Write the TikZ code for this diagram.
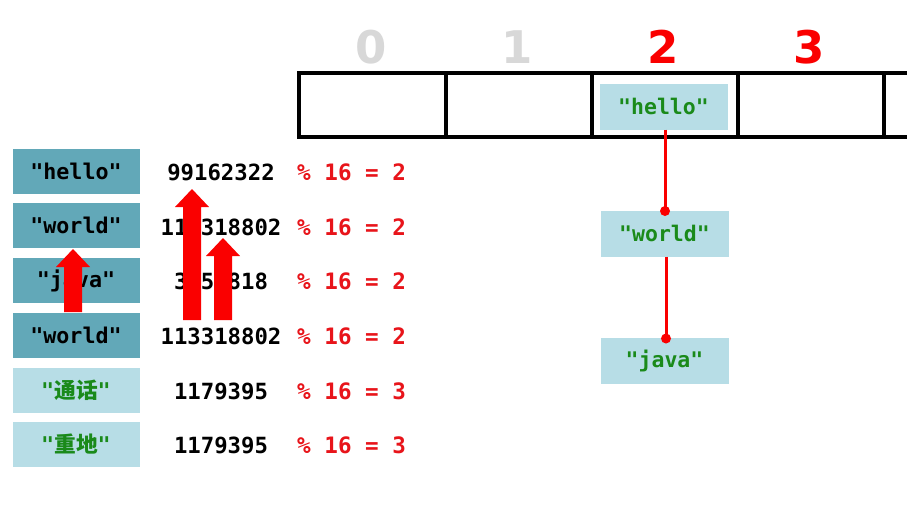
\documentclass[tikz,border=0pt]{standalone}
\usepackage{fontspec}
\setmonofont{DejaVu Sans Mono}
\newfontfamily\digitfont{DejaVu Sans}
\newfontfamily\cjk{Noto Sans CJK SC}
\definecolor{darkbox}{HTML}{62A8B8}
\definecolor{lightbox}{HTML}{B7DDE6}
\definecolor{txtgreen}{HTML}{1A8A1A}
\definecolor{hred}{HTML}{E8141A}
\definecolor{arrred}{HTML}{FA0000}
\definecolor{idxgray}{HTML}{D8D8D8}
\tikzset{
  keybox/.style={fill=darkbox, draw=white, line width=1pt, minimum width=128pt, minimum height=46pt, inner sep=0pt, font=\ttfamily\bfseries\fontsize{21.7}{21.7}\selectfont, text=black},
  keylight/.style={keybox, fill=lightbox, text=txtgreen},
  entrybox/.style={fill=lightbox, minimum width=128pt, minimum height=46pt, inner sep=0pt, font=\ttfamily\bfseries\fontsize{21.5}{21.5}\selectfont, text=txtgreen},
  hashtxt/.style={font=\ttfamily\bfseries\fontsize{22.3}{22.3}\selectfont, text=black, inner sep=0pt},
  modtxt/.style={font=\ttfamily\bfseries\fontsize{22.6}{22.6}\selectfont, text=hred, inner sep=0pt, anchor=west},
  idxlabel/.style={font=\digitfont\bfseries\fontsize{45}{45}\selectfont, inner sep=0pt},
  tableline/.style={line width=3.2pt, black},
  chain/.style={arrred, line width=3pt},
  bigarrow/.style={fill=arrred}
}
\begin{document}
\begin{tikzpicture}[x=1pt,y=-1pt]
\useasboundingbox[fill=white] (0,0) rectangle (907,507);

% hash table
\draw[tableline] (908,73) -- (299,73) -- (299,137) -- (908,137);
\foreach \x in {446,592,738,884} \draw[tableline] (\x,73) -- (\x,137);
\node[idxlabel, text=idxgray] (i0) at (371,47) {0};
\node[idxlabel, text=idxgray] (i1) at (517,47) {1};
\node[idxlabel, text=arrred] (i2) at (663,47) {2};
\node[idxlabel, text=arrred] (i3) at (809,47) {3};

% chain entries
\node[entrybox] (eh) at (663.5,106.5) {"hello"};
\node[entrybox] (ew) at (664.5,233.5) {"world"};
\node[entrybox] (ej) at (664.5,361) {"java"};
\coordinate (dw) at (665,211);
\coordinate (dj) at (666,338.5);
\draw[chain] (eh.south -| dw) -- (dw);
\draw[chain] (ew.south -| dj) -- (dj);
\fill[arrred] (dw) circle (5);
\fill[arrred] (dj) circle (5);

% keys
\node[keybox] (k1) at (76,171) {"hello"};
\node[keybox] (k2) at (76,225.5) {"world"};
\node[keybox] (k3) at (76,280.5) {"java"};
\node[keybox] (k4) at (76,335) {"world"};
\node[keylight] (k5) at (76,390) {"{\cjk\bfseries 通话}"};
\node[keylight] (k6) at (76,444) {"{\cjk\bfseries 重地}"};

% hash codes
\node[hashtxt] (h1) at (221,172) {99162322};
\node[hashtxt] (h2) at (221,227) {113318802};
\node[hashtxt] (h3) at (221,281) {3254818};
\node[hashtxt] (h4) at (221,336) {113318802};
\node[hashtxt] (h5) at (221,391) {1179395};
\node[hashtxt] (h6) at (221,445) {1179395};

% modulo
\node[modtxt] (m1) at (297,172) {\% 16 = 2};
\node[modtxt] (m2) at (297,227) {\% 16 = 2};
\node[modtxt] (m3) at (297,281) {\% 16 = 2};
\node[modtxt] (m4) at (297,336) {\% 16 = 2};
\node[modtxt] (m5) at (297,391) {\% 16 = 3};
\node[modtxt] (m6) at (297,445) {\% 16 = 3};

% block arrows
\fill[bigarrow] (64,312) -- (64,267) -- (56,267) -- (73,249) -- (90,267) -- (82,267) -- (82,312) -- cycle;
\fill[bigarrow] (183,320) -- (183,207) -- (175,207) -- (192,189) -- (209,207) -- (201,207) -- (201,320) -- cycle;
\fill[bigarrow] (214,320) -- (214,256) -- (206,256) -- (223,238) -- (240,256) -- (232,256) -- (232,320) -- cycle;
\end{tikzpicture}
\end{document}
